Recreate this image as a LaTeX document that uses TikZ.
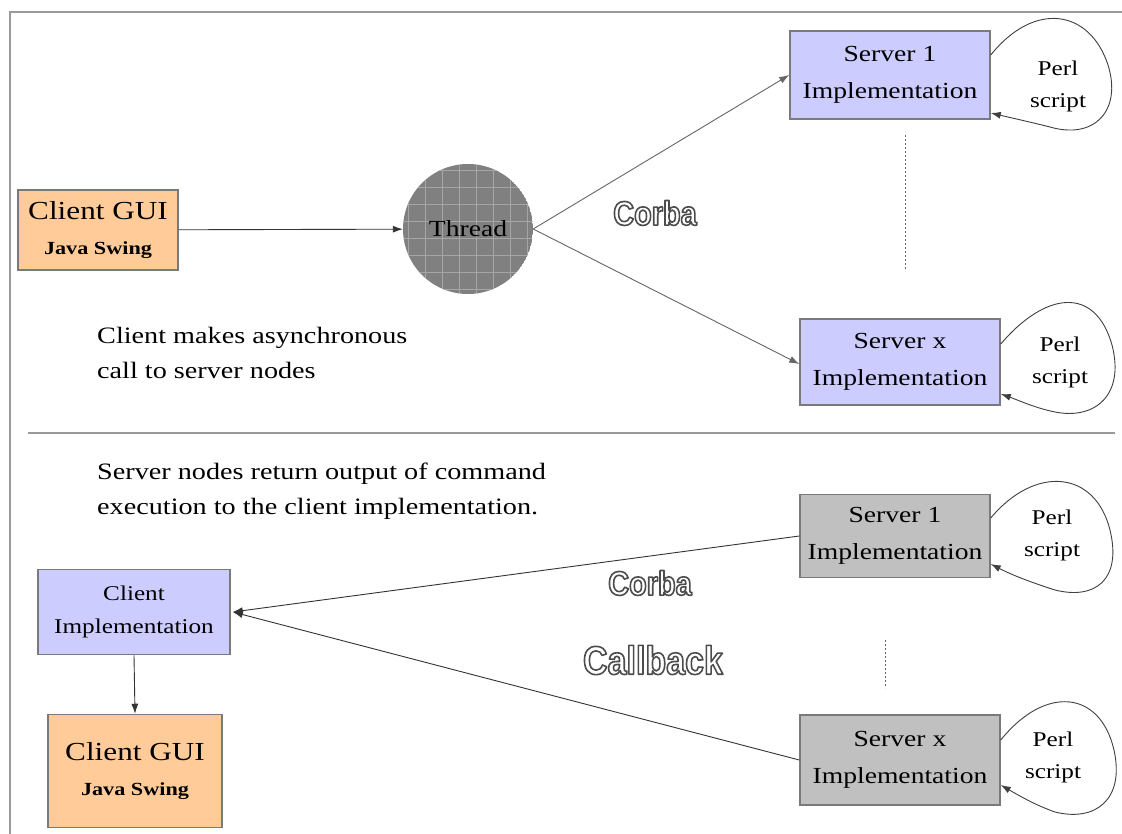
\documentclass[tikz,border=0pt]{standalone}
\usepackage{fontspec}
\setmainfont{Liberation Serif}[FakeStretch=1.2]
\newfontfamily\outfont{Liberation Sans}[FakeStretch=0.85]
\usetikzlibrary{arrows.meta,calc}
\definecolor{lavender}{HTML}{CCCCFF}
\definecolor{peach}{HTML}{FFCC99}
\definecolor{srvgray}{HTML}{C0C0C0}
\definecolor{framegray}{HTML}{9A9A9A}
\definecolor{bordergray}{HTML}{7A7A7A}
\newcommand{\outlinedtext}[1]{\color{white}\special{pdf:literal direct 0.3 G 1.6 w 1 j 2 Tr}#1\special{pdf:literal direct 0 Tr}}
\tikzset{
  box/.style={draw=bordergray, line width=1.5pt, align=center, inner sep=0pt,
    font=\fontsize{23}{37}\selectfont},
  srv/.style={box, fill=lavender, minimum width=200pt, minimum height=88pt},
  srvg/.style={box, fill=srvgray, minimum width=195pt, minimum height=86pt},
  gui/.style={box, fill=peach},
  conn/.style={draw=black!80, line width=0.9pt, -{Latex[length=10pt,width=7pt]}},
  blob/.style={draw=black!75, line width=0.9pt, -{Latex[length=10pt,width=7pt]}},
  perl/.style={align=center, font=\fontsize{21}{32}\selectfont, inner sep=0pt},
  note/.style={align=left, anchor=north west, font=\fontsize{23.5}{35}\selectfont, inner sep=0pt},
  dots/.style={draw=black!60, line width=0.8pt, dash pattern=on 2pt off 2pt},
  frame/.style={draw=framegray, line width=2pt},
  outl/.style={inner sep=0pt, font=\outfont\bfseries\fontsize{#1}{#1}\selectfont}
}
\begin{document}
\begin{tikzpicture}[x=1pt,y=-1pt]
\useasboundingbox (0,0) rectangle (1122,834);
\fill[white] (0,0) rectangle (1122,834);
% frame
\coordinate (fl) at (10,834);
\coordinate (ft) at (10,12);
\coordinate (fr) at (1122,12);
\draw[frame] (fl) -- (ft) -- (fr);
\coordinate (sepL) at (28,433);
\coordinate (sepR) at (1115,433);
\draw[frame] (sepL) -- (sepR);

% ===== top section =====
\node[gui, minimum width=160pt, minimum height=80pt] (gui1) at (98,230)
  {{\fontsize{26}{32}\selectfont Client GUI}\\[-2pt]{\fontsize{18.5}{22}\selectfont\bfseries Java Swing}};
\begin{scope}
  \clip (468,229) circle (65);
  \fill[black!50] (468,229) circle (65);
  \draw[black!35, line width=0.9pt, step=17pt] (390,150) grid (550,310);
\end{scope}
\node[circle, minimum size=130pt, inner sep=0pt, font=\fontsize{23}{28}\selectfont] (thread) at (468,229) {Thread};
\node[srv] (s1) at (890,75) {Server 1\\Implementation};
\node[srv, minimum height=86pt] (sx) at (900,362) {Server x\\Implementation};
\draw[conn] (gui1) -- (thread);
\draw[conn, draw=black!60] (thread.east) -- (s1.west);
\draw[conn, draw=black!60] (thread.east) -- ([yshift=-2pt]sx.west);
\coordinate (d1a) at (905,135);
\coordinate (d1b) at (905,270);
\draw[dots] (d1a) -- (d1b);
\node[outl=34] (corba1) at (655,213) {\outlinedtext{Corba}};
\node[perl] (p1) at (1058,86) {Perl\\script};
\node[perl] (p2) at (1060,362) {Perl\\script};
\draw[blob] ([yshift=20pt]s1.east) .. controls (1035,0) and (1090,10) .. (1108,65)
  .. controls (1122,110) and (1095,140) .. (1050,127) .. controls (1030,122) and (1012,118) .. ([yshift=-38pt]s1.east);
\draw[blob] ([yshift=18pt]sx.east) .. controls (1045,292) and (1095,285) .. (1112,345)
  .. controls (1125,395) and (1095,420) .. (1055,412) .. controls (1035,408) and (1018,400) .. ([yshift=-32pt]sx.east);
\node[note] (n1) at (97,327) {Client makes asynchronous\\call to server nodes};

% ===== bottom section =====
\node[note] (n2) at (97,463) {Server nodes return output of command\\execution to the client implementation.};
\node[srvg, minimum width=190pt, minimum height=83pt] (b1) at (895,536) {Server 1\\Implementation};
\node[srvg, minimum width=200pt, minimum height=90pt] (bx) at (900,760) {Server x\\Implementation};
\node[box, fill=lavender, minimum width=192pt, minimum height=85pt, font=\fontsize{21}{33}\selectfont] (ci) at (134,612) {Client\\Implementation};
\node[gui, minimum width=174pt, minimum height=113pt] (gui2) at (135,771)
  {{\fontsize{26}{32}\selectfont Client GUI}\\[-2pt]{\fontsize{18.5}{22}\selectfont\bfseries Java Swing}};
\draw[conn] (b1.west) -- ([xshift=2pt]ci.east);
\draw[conn] (bx.west) -- ([xshift=2pt]ci.east);
\draw[conn] (ci.south) -- (gui2.north);
\coordinate (d2a) at (885,640);
\coordinate (d2b) at (885,688);
\draw[dots] (d2a) -- (d2b);
\node[outl=34] (corba2) at (650,583) {\outlinedtext{Corba}};
\node[outl=40] (callback) at (653,660) {\outlinedtext{Callback}};
\node[perl] (p3) at (1052,535) {Perl\\script};
\node[perl] (p4) at (1053,757) {Perl\\script};
\draw[blob] ([yshift=18pt]b1.east) .. controls (1035,465) and (1095,470) .. (1110,530)
  .. controls (1122,580) and (1095,600) .. (1055,590) .. controls (1030,582) and (1012,575) .. ([yshift=-28pt]b1.east);
\draw[blob] ([yshift=20pt]bx.east) .. controls (1045,685) and (1100,690) .. (1114,750)
  .. controls (1125,800) and (1095,822) .. (1055,812) .. controls (1035,805) and (1018,795) .. ([yshift=-25pt]bx.east);
\end{tikzpicture}
\end{document}
